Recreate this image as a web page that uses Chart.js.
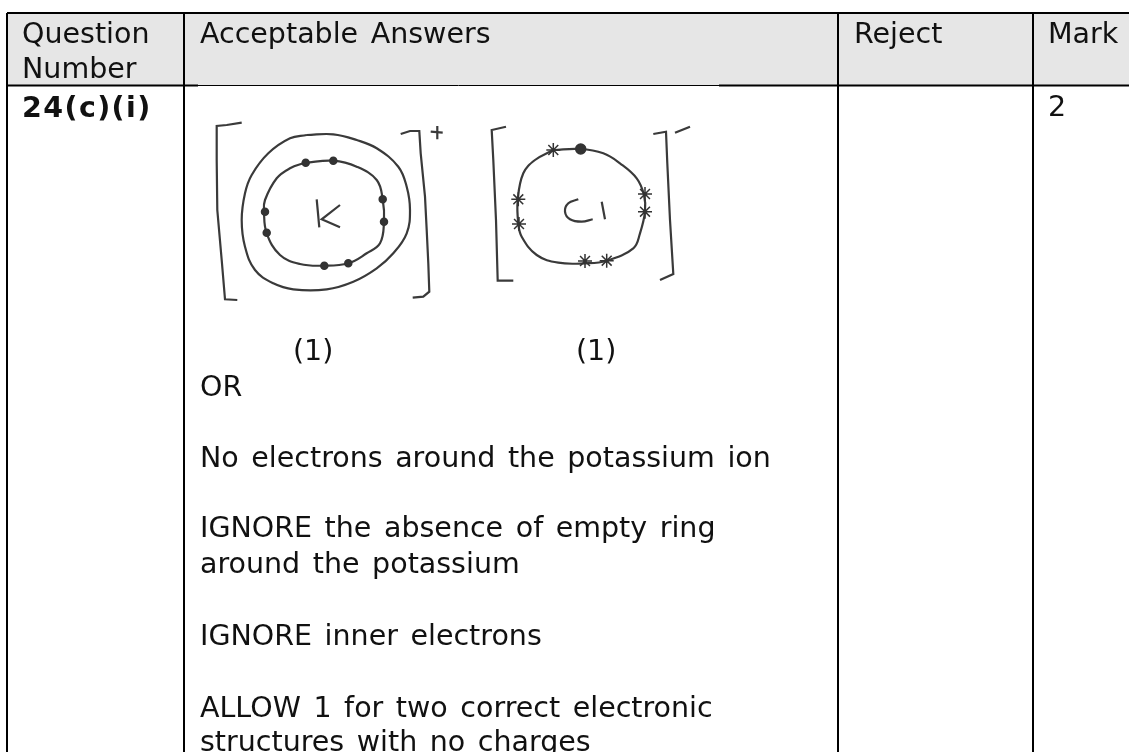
<!DOCTYPE html>
<html>
<head>
<meta charset="utf-8">
<title>Mark scheme 24(c)(i)</title>
<script src="https://cdn.jsdelivr.net/npm/chart.js@4/dist/chart.umd.min.js"></script>
<style>
    html, body { margin: 0; padding: 0; background: #fff; overflow: hidden; }
    canvas { display: block; }
</style>
</head>
<body>
<canvas id="sheet" width="1129" height="752"></canvas>
<script>
// table text, one list per column
const headLabels = ['Question', 'Number', 'Acceptable Answers', 'Reject', 'Mark'];
const questionLabel = '24(c)(i)';
const markLabel = '2';
const answerLabels = [
    '(1)', '(1)', 'OR',
    'No electrons around the potassium ion',
    'IGNORE the absence of empty ring',
    'around the potassium',
    'IGNORE inner electrons',
    'ALLOW 1 for two correct electronic',
    'structures with no charges'
];

// table rules
const topRule = [[7, 13], [1129, 13]];
const headRuleLeft = [[7, 85.5], [198, 85.5]];
const headRuleMid = [[198, 85.5], [719, 85.5]];
const headRuleRight = [[719, 85.5], [1129, 85.5]];
const colRule0 = [[7, 13], [7, 752]];
const colRule1 = [[184, 13], [184, 752]];
const colRule2 = [[838, 13], [838, 752]];
const colRule3 = [[1033, 13], [1033, 752]];
const headBand = [[6, 85], [1129, 85]];

// potassium ion sketch
const kOuter = [[306.7,135],[333.3,134.3],[356.7,140],[376.7,148.3],[398.3,166.7],[406.7,186.7],[410,210],[406.7,233.3],[393.3,253.3],[376.7,268.3],[353.3,281.7],[326.7,289.3],[293.3,289.3],[273.3,283.3],[255,270],[245,246.7],[241.7,220],[245,193.3],[251.7,175],[268.3,153.3],[290,138.3],[306.7,135]];
const kInner = [[305,162.7],[333.3,160.7],[356.7,166.7],[376.7,180],[382.7,199.3],[384,221.7],[380,243.3],[366.7,253.3],[348.3,263.3],[323.3,265.7],[300,264],[280,255],[266.7,233.3],[264,211.7],[265,200],[276.7,178.3],[290,168.3],[305,162.7]];
const kElectrons = [[305.7,162.7],[333.3,160.7],[382.7,199.3],[384,221.7],[348.3,263.3],[324.3,265.7],[266.7,232.7],[265,211.7]];
const kBracketL = [[241.7,122.7],[226.7,125],[216.7,126],[216.7,160],[217.3,210],[221.7,260],[225,299.3],[237.3,300]];
const kBracketR = [[400.7,134],[410,131],[419.3,131],[420.7,153.3],[425,196.7],[426.7,230],[428.3,263.3],[429.3,291.7],[423.3,296.7],[412.7,297.7]];
const plusA = [[430.7,131.7],[442.7,132.7]];
const plusB = [[437.3,126],[437.3,139.3]];
const letterK1 = [[316.7,199.3],[319.3,227.3]];
const letterK2 = [[340,205],[321.7,219.3],[340,227.3]];

// chloride ion sketch
const clRing = [[553.3,150],[580,149],[603.3,153.3],[620,163.3],[636.7,178.3],[644,195],[645,211.7],[640,233.3],[633.3,248.3],[606.7,260.7],[585,263.3],[558.3,262.7],[536.7,255],[521.7,236.7],[518.3,223.3],[517.7,200],[523.3,173.3],[535,160],[553.3,150]];
const clCrosses = [[553.3,150],[518.3,199.3],[519,224],[645,194],[645,211.7],[585,261],[606.7,260.7]];
const clDot = [[580.7,149]];
const clBracketL = [[506,126.7],[491.7,130],[493.3,160],[496,220],[497.7,280.7],[513.3,280.7]];
const clBracketR = [[653.3,134],[666,131.7],[667.3,163.3],[670,220],[673.3,274],[660,280]];
const minus = [[675,132.7],[690,126.7]];
const letterC = [[578.3,199.3],[568.3,203.3],[565,211.7],[570,219.3],[581.7,221.7],[592.7,219.3]];
const letterL = [[601.7,201.7],[605,219.3]];

const toPoints = (list) => list.map((p) => ({ x: p[0], y: p[1] }));

function rule(list, width) {
    return { data: toPoints(list), showLine: true, borderColor: '#000', borderWidth: width, pointRadius: 0 };
}
function sketch(list, curved) {
    return { data: toPoints(list), showLine: true, borderColor: '#3a3a3a', borderWidth: 2.2, pointRadius: 0, tension: curved ? 0.4 : 0 };
}
function marks(list, style, radius) {
    return { data: toPoints(list), showLine: false, pointStyle: style, pointRadius: radius, pointBorderColor: '#333', pointBackgroundColor: '#333', pointBorderWidth: 1.5 };
}

// left edge and baseline for each text
const textPlaces = [
    [headLabels[0], 22, 43], [headLabels[1], 22, 78], [headLabels[2], 200, 43], [headLabels[3], 854, 43], [headLabels[4], 1048, 43],
    [questionLabel, 22, 117, true], [markLabel, 1048, 116],
    [answerLabels[0], 293, 360], [answerLabels[1], 576, 360], [answerLabels[2], 200, 396],
    [answerLabels[3], 200, 467], [answerLabels[4], 200, 537], [answerLabels[5], 200, 573],
    [answerLabels[6], 200, 645], [answerLabels[7], 200, 717], [answerLabels[8], 200, 751]
];

const sheetText = {
    id: 'sheetText',
    afterDraw(chart) {
        const ctx = chart.ctx;
        ctx.save();
        ctx.fillStyle = '#111';
        ctx.textBaseline = 'alphabetic';
        textPlaces.forEach((t) => {
            ctx.letterSpacing = t[3] ? '1.4px' : '0px';
            ctx.wordSpacing = '3.5px';
            ctx.font = (t[3] ? 'bold ' : '') + '28.5px "DejaVu Sans"';
            ctx.fillText(t[0], chart.scales.x.getPixelForValue(t[1]), chart.scales.y.getPixelForValue(t[2]));
        });
        ctx.restore();
    }
};

new Chart(document.querySelector('#sheet'), {
    type: 'scatter',
    data: {
        datasets: [
            rule(topRule, 2), rule(colRule0, 2), rule(colRule1, 2), rule(colRule2, 2), rule(colRule3, 2),
            rule(headRuleLeft, 2), rule(headRuleMid, 1), rule(headRuleRight, 2),
            marks(kElectrons, 'circle', 3.5), marks(clDot, 'circle', 5), marks(clCrosses, 'star', 7),
            sketch(kOuter, true), sketch(kInner, true), sketch(clRing, true),
            sketch(kBracketL), sketch(kBracketR), sketch(clBracketL), sketch(clBracketR),
            sketch(plusA), sketch(plusB), sketch(minus),
            sketch(letterK1), sketch(letterK2), sketch(letterC, true), sketch(letterL),
            { data: toPoints(headBand), showLine: true, borderWidth: 0, pointRadius: 0, backgroundColor: '#e6e6e6', fill: { value: 13 } }
        ]
    },
    options: {
        responsive: false,
        animation: false,
        layout: { padding: 0, autoPadding: false },
        plugins: { legend: { display: false }, tooltip: { enabled: false } },
        scales: {
            x: { type: 'linear', min: 0, max: 1129, display: false },
            y: { type: 'linear', min: 0, max: 752, reverse: true, display: false }
        }
    },
    plugins: [sheetText]
});
</script>
</body>
</html>
